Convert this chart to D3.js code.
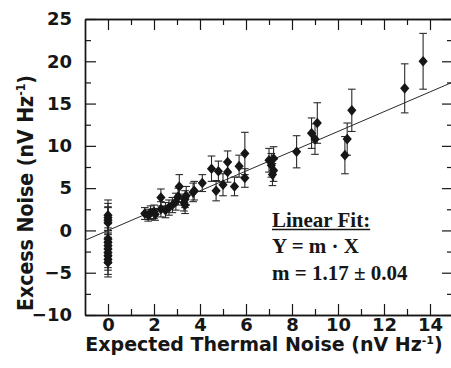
<!DOCTYPE html>
<html>
<head>
<meta charset="utf-8">
<script src="https://cdn.jsdelivr.net/npm/d3@7"></script>
<style>
  body { margin: 0; background: #fff; }
  svg { display: block; }
</style>
</head>
<body>
<div id="chart"></div>
<script>
// data
const thermal = [0, 0, 0, 0, 0, 0, 0, 0, 0, 0, 0, 0,
  1.6, 1.75, 1.85, 2.0, 2.05,
  2.3, 2.3, 2.5, 2.65, 2.8, 2.95, 3.1, 3.05, 3.3, 3.35, 3.4, 3.35,
  3.7, 3.75, 4.1, 4.5, 4.7, 4.8, 5.0, 5.2, 5.2, 5.5, 5.7, 5.95, 5.95,
  7.0, 7.1, 7.2, 7.2, 7.15, 8.2, 8.85, 9.0, 9.1,
  10.4, 10.3, 10.6, 12.9, 13.7];
const excess = [1.8, 1.5, 1.2, 0.9, -1.0, -1.4, -1.8, -2.2, -2.6, -3.0, -3.4, -3.8,
  2.0, 1.8, 2.1, 2.2, 1.9,
  3.9, 2.5, 2.4, 2.7, 3.0, 3.4, 5.2, 4.0, 3.3, 3.7, 4.1, 3.0,
  4.5, 4.7, 5.6, 7.3, 4.7, 7.0, 5.4, 8.1, 6.9, 5.2, 7.6, 9.1, 6.2,
  8.3, 7.7, 7.1, 8.5, 6.6, 9.3, 11.5, 10.8, 12.7,
  10.8, 8.9, 14.2, 16.8, 20.0];
const errs = [1.8, 1.7, 1.6, 1.8, 1.8, 1.7, 1.8, 1.7, 1.8, 1.7, 1.8, 1.7,
  0.7, 0.7, 0.8, 0.8, 0.7,
  1.0, 0.9, 0.9, 0.9, 0.9, 1.0, 1.4, 1.0, 1.0, 1.0, 1.1, 1.0,
  1.1, 1.1, 1.0, 1.5, 1.2, 1.2, 1.3, 1.3, 1.2, 1.1, 1.3, 2.5, 1.1,
  1.4, 1.4, 1.3, 1.4, 1.3, 1.9, 1.8, 1.8, 2.4,
  1.9, 2.2, 2.5, 2.9, 3.3];
const slope = 1.17;
const xTicks = [0, 2, 4, 6, 8, 10, 12, 14];
const xMinor = [1, 3, 5, 7, 9, 11, 13];
const yTicks = [-10, -5, 0, 5, 10, 15, 20, 25];
const yMinor = [-7.5, -2.5, 2.5, 7.5, 12.5, 17.5, 22.5];
const fitLines = ["Linear Fit:", "Y = m \u00b7 X", "m = 1.17 \u00b1 0.04"];

const W = 451, H = 368;
const ink = "#161616";
const svg = d3.select("#chart").append("svg")
  .attr("width", W).attr("height", H);

const x = d3.scaleLinear().domain([-1, 15]).range([85, 453]);
const y = d3.scaleLinear().domain([-10, 25]).range([315, 19]);

svg.append("clipPath").attr("id", "plotclip")
  .append("rect").attr("x", 85).attr("y", 19).attr("width", 368).attr("height", 296);

// axes: ticks point inward on all four sides
function styleAxis(g) {
  g.select(".domain").attr("stroke", ink).attr("stroke-width", 1.4);
  g.selectAll(".tick line").attr("stroke", ink).attr("stroke-width", 1.2);
  g.selectAll(".tick text")
    .attr("fill", ink)
    .style("font-family", "'DejaVu Sans', sans-serif")
    .style("font-weight", "bold")
    .style("font-size", "18px");
}

svg.append("g").attr("transform", "translate(0,315)")
  .call(d3.axisBottom(x).tickValues(xTicks).tickSize(-11).tickSizeOuter(0).tickPadding(3))
  .call(styleAxis);
svg.append("g").attr("transform", "translate(0,315)")
  .call(d3.axisBottom(x).tickValues(xMinor).tickSize(-6).tickSizeOuter(0).tickFormat(""))
  .call(styleAxis);
svg.append("g").attr("transform", "translate(0,19)")
  .call(d3.axisTop(x).tickValues(xTicks).tickSize(-11).tickSizeOuter(0).tickFormat(""))
  .call(styleAxis);
svg.append("g").attr("transform", "translate(0,19)")
  .call(d3.axisTop(x).tickValues(xMinor).tickSize(-6).tickSizeOuter(0).tickFormat(""))
  .call(styleAxis);

svg.append("g").attr("transform", "translate(85,0)")
  .call(d3.axisLeft(y).tickValues(yTicks).tickSize(-11).tickSizeOuter(0).tickPadding(13))
  .call(styleAxis);
svg.append("g").attr("transform", "translate(85,0)")
  .call(d3.axisLeft(y).tickValues(yMinor).tickSize(-6).tickSizeOuter(0).tickFormat(""))
  .call(styleAxis);
svg.append("g").attr("transform", "translate(453,0)")
  .call(d3.axisRight(y).tickValues(yTicks).tickSize(-11).tickSizeOuter(0).tickFormat(""))
  .call(styleAxis);
svg.append("g").attr("transform", "translate(453,0)")
  .call(d3.axisRight(y).tickValues(yMinor).tickSize(-6).tickSizeOuter(0).tickFormat(""))
  .call(styleAxis);

const plot = svg.append("g").attr("clip-path", "url(#plotclip)");

// fit line Y = m X
plot.append("line")
  .attr("x1", x(-1)).attr("y1", y(-slope))
  .attr("x2", x(15)).attr("y2", y(15 * slope))
  .attr("stroke", "#2a2a2a").attr("stroke-width", 1);

const pts = thermal.map((t, i) => ({ t: t, e: excess[i], s: errs[i] }));

// error bars
const eb = plot.append("g").attr("stroke", "#2a2a2a").attr("stroke-width", 1.1);
pts.forEach(d => {
  const cx = x(d.t);
  eb.append("line").attr("x1", cx).attr("x2", cx)
    .attr("y1", y(d.e - d.s)).attr("y2", y(d.e + d.s));
  [d.e - d.s, d.e + d.s].forEach(v => {
    eb.append("line").attr("x1", cx - 3.8).attr("x2", cx + 3.8)
      .attr("y1", y(v)).attr("y2", y(v));
  });
});

// diamond markers
plot.selectAll("path.pt").data(pts).enter().append("path")
  .attr("class", "pt")
  .attr("d", "M0,-5.3L4.6,0L0,5.3L-4.6,0Z")
  .attr("transform", d => `translate(${x(d.t)},${y(d.e)})`)
  .attr("fill", ink);

// axis titles
const xt = svg.append("text")
  .attr("x", 264).attr("y", 351)
  .attr("text-anchor", "middle")
  .attr("fill", ink)
  .style("font-family", "'DejaVu Sans', sans-serif")
  .style("font-weight", "bold")
  .style("font-size", "19px");
xt.append("tspan").text("Expected Thermal Noise (nV Hz");
xt.append("tspan").attr("dy", -7).style("font-size", "11px").text("-1");
xt.append("tspan").attr("dy", 7).text(")");

const yt = svg.append("text")
  .attr("transform", "translate(33,193) scale(1.12,1) rotate(-90)")
  .attr("text-anchor", "middle")
  .attr("fill", ink)
  .style("font-family", "'DejaVu Sans', sans-serif")
  .style("font-weight", "bold")
  .style("font-size", "19px");
yt.append("tspan").text("Excess Noise (nV Hz");
yt.append("tspan").attr("dy", -7).style("font-size", "11px").text("-1");
yt.append("tspan").attr("dy", 7).text(")");

// fit annotation
const ann = svg.append("g")
  .attr("fill", ink)
  .style("font-family", "'Liberation Serif', 'Times New Roman', serif")
  .style("font-weight", "bold")
  .style("font-size", "21px");
const annY = [227, 253, 280];
fitLines.forEach((s, i) => {
  const t = ann.append("text").attr("x", 272).attr("y", annY[i]).text(s);
  if (i === 0) {
    const w = t.node().getComputedTextLength();
    ann.append("line").attr("x1", 272).attr("x2", 272 + w)
      .attr("y1", annY[i] + 2.5).attr("y2", annY[i] + 2.5)
      .attr("stroke", ink).attr("stroke-width", 1.6);
  }
});
</script>
</body>
</html>
